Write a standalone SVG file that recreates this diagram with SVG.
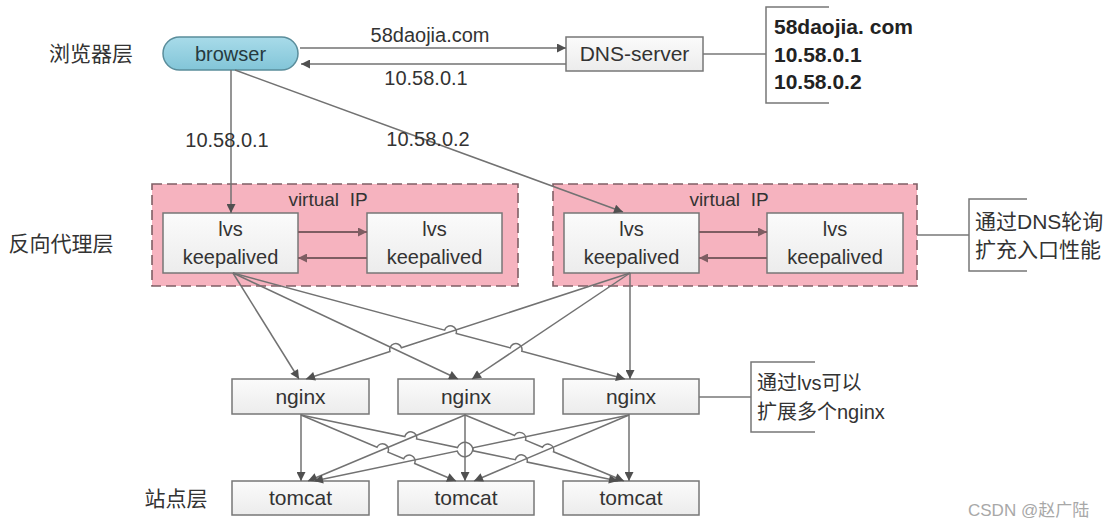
<svg xmlns="http://www.w3.org/2000/svg" width="1114" height="528" viewBox="0 0 1114 528">
<style>
.t{font-family:"Liberation Sans","Noto Sans CJK SC",sans-serif;fill:#333;}
.c{text-anchor:middle;}
.lbl{font-size:21px;}
.n{font-size:20px;}
.b{font-size:21px;font-weight:bold;fill:#222;}
.box{fill:url(#g);stroke:#777;stroke-width:1.5;}
.ln{fill:none;stroke:#727272;stroke-width:1.5;}
.ar{marker-end:url(#ah);}
.pk{fill:none;stroke:#7e5d62;stroke-width:1.8;marker-end:url(#ahp);}
.br{fill:none;stroke:#777;stroke-width:1.5;}
.vip{fill:#f6b3bf;stroke:#7f5f65;stroke-width:1.6;stroke-dasharray:10,5;}
</style>
<defs>
<linearGradient id="g" x1="0" y1="0" x2="0" y2="1"><stop offset="0" stop-color="#fbfbfb"/><stop offset="1" stop-color="#ececec"/></linearGradient>
<linearGradient id="gb" x1="0" y1="0" x2="0" y2="1"><stop offset="0" stop-color="#a8dbe9"/><stop offset="1" stop-color="#82c5d8"/></linearGradient>
<marker id="ah" viewBox="0 0 10 10" refX="10" refY="5" markerWidth="11" markerHeight="9" markerUnits="userSpaceOnUse" orient="auto"><path d="M0,0 L10,5 L0,10 z" fill="#505050"/></marker>
<marker id="ahp" viewBox="0 0 10 10" refX="10" refY="5" markerWidth="11" markerHeight="9" markerUnits="userSpaceOnUse" orient="auto"><path d="M0,0 L10,5 L0,10 z" fill="#7e5d62"/></marker>
</defs>
<rect width="1114" height="528" fill="#fff"/>

<g id="layer-labels">
<text class="t lbl c" x="91" y="61">浏览器层</text>
<text class="t lbl c" x="61" y="251">反向代理层</text>
<text class="t lbl c" x="176" y="506">站点层</text>
</g>

<g id="vip-left"><rect class="vip" x="152" y="184" width="366" height="102"/><text class="t c" x="328" y="206" style="font-size:19px;white-space:pre" xml:space="preserve">virtual  IP</text></g>
<g id="vip-right"><rect class="vip" x="553" y="184" width="364" height="102"/><text class="t c" x="729" y="206" style="font-size:19px;white-space:pre" xml:space="preserve">virtual  IP</text></g>

<g id="browser"><rect x="163" y="37" width="135" height="33" rx="16.5" fill="url(#gb)" stroke="#5a8d9b" stroke-width="1.5"/><text class="t n c" x="230.5" y="61" style="fill:#263a40">browser</text></g>
<g id="dns"><rect class="box" x="566" y="37" width="137" height="34"/><text class="t c" style="font-size:21px" x="634.5" y="61">DNS-server</text></g>
<g id="dns-note"><path class="br" d="M829,7 H766 V103 H829"/><text class="t b" x="774" y="34">58daojia. com</text><text class="t b" x="774" y="62">10.58.0.1</text><text class="t b" x="774" y="89">10.58.0.2</text></g>

<g id="lvs1"><rect class="box" x="163" y="213" width="135" height="60"/><text class="t n c" x="230.5" y="236">lvs</text><text class="t n c" x="230.5" y="264">keepalived</text></g>
<g id="lvs2"><rect class="box" x="367" y="213" width="135" height="60"/><text class="t n c" x="434.5" y="236">lvs</text><text class="t n c" x="434.5" y="264">keepalived</text></g>
<g id="lvs3"><rect class="box" x="564" y="213" width="135" height="60"/><text class="t n c" x="631.5" y="236">lvs</text><text class="t n c" x="631.5" y="264">keepalived</text></g>
<g id="lvs4"><rect class="box" x="767" y="213" width="136" height="60"/><text class="t n c" x="835" y="236">lvs</text><text class="t n c" x="835" y="264">keepalived</text></g>
<g id="lvs-note"><path class="br" d="M1027,199 H969 V271 H1027"/><text class="t lbl" x="975" y="229">通过DNS轮询</text><text class="t lbl" x="975" y="257">扩充入口性能</text></g>

<g id="nginx1"><rect class="box" x="232" y="379" width="137" height="35"/><text class="t c" style="font-size:21px" x="300.5" y="404">nginx</text></g>
<g id="nginx2"><rect class="box" x="398" y="379" width="136" height="35"/><text class="t c" style="font-size:21px" x="466" y="404">nginx</text></g>
<g id="nginx3"><rect class="box" x="563" y="379" width="136" height="35"/><text class="t c" style="font-size:21px" x="631" y="404">nginx</text></g>
<g id="nginx-note"><path class="br" d="M815,362 H751 V432 H815"/><text class="t" style="font-size:20px" x="757" y="390">通过lvs可以</text><text class="t" style="font-size:20px" x="757" y="419">扩展多个nginx</text></g>

<g id="tomcat1"><rect class="box" x="232" y="481" width="137" height="34"/><text class="t c" style="font-size:21px" x="300.5" y="505">tomcat</text></g>
<g id="tomcat2"><rect class="box" x="398" y="481" width="136" height="34"/><text class="t c" style="font-size:21px" x="466" y="505">tomcat</text></g>
<g id="tomcat3"><rect class="box" x="563" y="481" width="136" height="34"/><text class="t c" style="font-size:21px" x="631" y="505">tomcat</text></g>

<g id="connectors">
<path class="ln ar" d="M300,48 H566"/>
<path class="ln ar" d="M566,64 H301"/>
<text class="t n c" x="430" y="42">58daojia.com</text>
<text class="t n c" x="426" y="85">10.58.0.1</text>
<path class="br" d="M703,54 H766"/>
<path class="ln ar" d="M231,70 V213"/>
<path class="ln ar" d="M235,70 L623,212"/>
<text class="t n c" x="227" y="147">10.58.0.1</text>
<text class="t n c" x="428" y="146">10.58.0.2</text>
<path class="pk" d="M298,232 H367"/>
<path class="pk" d="M367,258 H298"/>
<path class="pk" d="M699,232 H767"/>
<path class="pk" d="M767,258 H699"/>
<path class="br" d="M917,235 H969"/>
<path class="br" d="M699,397 H751"/>

<path class="ln ar" d="M233,273 L299,379"/>
<path class="ln ar" d="M233,273 L458,379"/>
<path class="ln ar" d="M233,273 L444.6,330.2 A6,6 0 0 1 456.2,333.4 L510.2,347.9 A6,6 0 0 1 521.8,351.1 L625,379"/>
<path class="ln ar" d="M630,273 L401.4,347.7 A6,6 0 0 0 390,351.5 L306,379"/>
<path class="ln ar" d="M630,273 L472,379"/>
<path class="ln ar" d="M630,273 V379"/>

<path class="ln ar" d="M301,414 V481"/>
<path class="ln ar" d="M301,415 L377,447.3 A6,6 0 0 1 388,452.1 L403.7,458.7 A6,6 0 0 1 414.7,463.5 L456,481"/>
<path class="ln ar" d="M301,415 L404.8,436.6 A6,6 0 0 1 416.6,439 L457.5,447.6 A8,8 0 0 1 473,450.8 L515.4,459.7 A6,6 0 0 1 527.2,462.1 L618,481"/>
<path class="ln ar" d="M465,415 L308,481"/>
<path class="ln ar" d="M465,414 V481"/>
<path class="ln ar" d="M465,415 L514.5,435.5 A6,6 0 0 1 525.5,440.1 L542.5,447.2 A6,6 0 0 1 553.5,451.8 L624,481"/>
<path class="ln ar" d="M629,415 L472.8,447.8 A8,8 0 0 1 457.2,451 L314,481"/>
<path class="ln ar" d="M629,415 L474,481"/>
<path class="ln ar" d="M629,414 V481"/>
</g>

<text class="t" x="968" y="516" style="font-size:17px;fill:#a8a8a8">CSDN @赵广陆</text>
</svg>
